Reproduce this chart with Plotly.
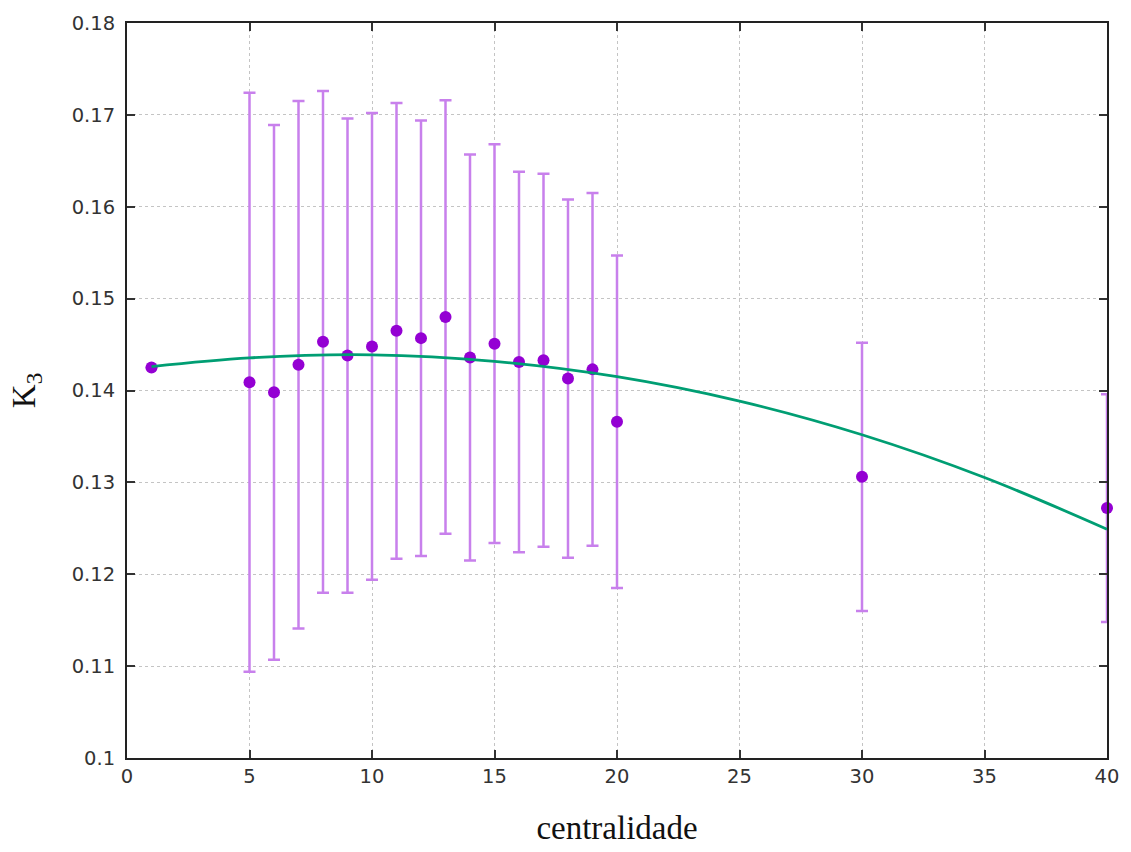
import plotly.graph_objects as go

# data
centralidade = [1, 5, 6, 7, 8, 9, 10, 11, 12, 13, 14, 15, 16, 17, 18, 19, 20, 30, 40]
k3 = [0.1425, 0.1409, 0.1398, 0.1428, 0.1453, 0.1438, 0.1448, 0.1465, 0.1457, 0.1480,
      0.1436, 0.1451, 0.1431, 0.1433, 0.1413, 0.1423, 0.1366, 0.1306, 0.1272]
k3_err = [0.0, 0.0315, 0.0291, 0.0287, 0.0273, 0.0258, 0.0254, 0.0248, 0.0237, 0.0236,
          0.0221, 0.0217, 0.0207, 0.0203, 0.0195, 0.0192, 0.0181, 0.0146, 0.0124]

# fit curve, values
fit_x = [1, 5, 10, 15, 20, 25, 30, 35, 40]
fit_y = [0.1426, 0.14355, 0.14388, 0.14317, 0.14150, 0.13884, 0.13518, 0.13053, 0.12490]

x_ticks = [0, 5, 10, 15, 20, 25, 30, 35, 40]
y_ticks = [0.10, 0.11, 0.12, 0.13, 0.14, 0.15, 0.16, 0.17, 0.18]
y_tick_text = ["0.1", "0.11", "0.12", "0.13", "0.14", "0.15", "0.16", "0.17", "0.18"]

fig = go.Figure()
fig.add_trace(go.Scatter(
    x=centralidade, y=k3, mode="markers",
    marker=dict(color="#9400d3", size=12),
    error_y=dict(type="data", array=k3_err, visible=True,
                 color="#c880ec", thickness=2.5, width=6),
    cliponaxis=False, showlegend=False,
))
fig.add_trace(go.Scatter(
    x=fit_x, y=fit_y, mode="lines", line=dict(color="#009e73", width=2.8, shape="spline"),
    showlegend=False,
))

axis_common = dict(
    showline=True, linecolor="#222222", linewidth=2, mirror="ticks",
    ticks="inside", ticklen=8, tickwidth=1.5, tickcolor="#333333",
    showgrid=True, gridcolor="#c4c4c4", gridwidth=1, griddash="dot",
    zeroline=False,
    tickfont=dict(family="DejaVu Sans", size=19.5, color="#333333"),
)

fig.update_xaxes(range=[0, 40], tickvals=x_ticks, **axis_common,
                 title=dict(text="centralidade", standoff=28,
                            font=dict(family="Liberation Serif", size=33, color="#111111")))
fig.update_yaxes(range=[0.1, 0.18], tickvals=y_ticks, ticktext=y_tick_text,
                 ticklabelstandoff=6, **axis_common,
                 title=dict(text="K<sub>3</sub>", standoff=26,
                            font=dict(family="Liberation Serif", size=33, color="#111111")))

fig.update_layout(
    width=1131, height=852,
    margin=dict(l=127, r=24, t=18, b=87),
    plot_bgcolor="white", paper_bgcolor="white",
)

fig.write_html("out.html", config={"displayModeBar": False},
               post_script="document.body.style.margin='0';document.body.style.overflow='hidden';")
